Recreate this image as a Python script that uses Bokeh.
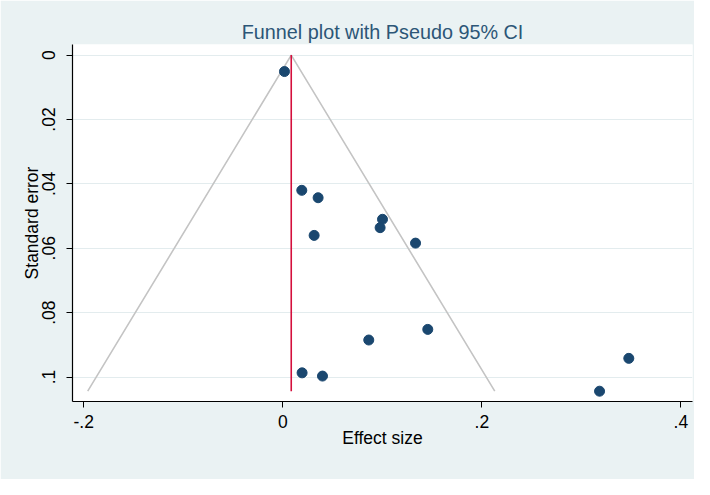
from bokeh.plotting import figure
from bokeh.models import Range1d, FixedTicker, ColumnDataSource
from bokeh.embed import file_html
from bokeh.resources import INLINE

# ---- data ----
effect_size = [0.0017, 0.0191, 0.0355, 0.1002, 0.0978, 0.0315, 0.1334,
               0.1457, 0.0864, 0.3477, 0.0194, 0.0399, 0.3183]
std_error = [0.0051, 0.0420, 0.0443, 0.0510, 0.0536, 0.0560, 0.0584,
             0.0852, 0.0885, 0.0942, 0.0987, 0.0997, 0.1044]

pooled_effect = 0.0085
max_se = 0.1044
funnel_x = [-0.196, 0.0085, 0.213]
funnel_se = [0.1044, 0.0, 0.1044]

x_ticks = [-0.2, 0.0, 0.2, 0.4]
x_tick_labels = ["-.2", "0", ".2", ".4"]
y_ticks = [0.0, 0.02, 0.04, 0.06, 0.08, 0.1]
y_tick_labels = ["0", ".02", ".04", ".06", ".08", ".1"]

BG = "#eaf2f3"
FONT = "Liberation Sans"

p = figure(
    frame_width=620, frame_height=357,
    min_border_left=72, min_border_right=2,
    min_border_top=44, min_border_bottom=78,
    x_range=Range1d(-0.2113, 0.4117),
    y_range=Range1d(0.1076, -0.0033),
    output_backend="svg", toolbar_location=None,
    title="Funnel plot with Pseudo 95% CI",
)
p.background_fill_color = "white"
p.border_fill_color = BG
p.outline_line_color = None

p.title.align = "center"
p.title.text_font = FONT
p.title.text_font_size = "19.8px"
p.title.text_font_style = "normal"
p.title.text_color = "#2c5677"
p.title.standoff = 4

# funnel
p.line(funnel_x, funnel_se, line_color="#c4c4c4", line_width=1.6)
# pooled effect line
p.line([pooled_effect, pooled_effect], [0.0, max_se], line_color="#d40f3c", line_width=1.6)

src = ColumnDataSource(dict(x=effect_size, y=std_error))
p.scatter("x", "y", source=src, size=10, fill_color="#1a476f", line_color="#1a476f")

# axes
p.xaxis.ticker = FixedTicker(ticks=x_ticks)
p.xaxis.major_label_overrides = {t: l for t, l in zip(x_ticks, x_tick_labels)}
p.yaxis.ticker = FixedTicker(ticks=y_ticks)
p.yaxis.major_label_overrides = {t: l for t, l in zip(y_ticks, y_tick_labels)}
p.yaxis.major_label_orientation = "vertical"

p.xaxis.axis_label = "Effect size"
p.yaxis.axis_label = "Standard error"

for ax in (p.xaxis, p.yaxis):
    ax.axis_line_color = "black"
    ax.axis_line_width = 1.2
    ax.major_tick_line_color = "black"
    ax.major_tick_out = 6
    ax.major_tick_in = 0
    ax.minor_tick_line_color = None
    ax.major_label_text_font = FONT
    ax.major_label_text_font_size = "17.5px"
    ax.major_label_text_color = "black"
    ax.axis_label_text_font = FONT
    ax.axis_label_text_font_size = "17.5px"
    ax.axis_label_text_font_style = "normal"
    ax.axis_label_text_color = "black"

p.xaxis.major_label_standoff = 7
p.xaxis.axis_label_standoff = -3
p.yaxis.major_label_standoff = 11
p.yaxis.axis_label_standoff = -2

p.xgrid.grid_line_color = None
p.ygrid.grid_line_color = "#e3ecee"
p.ygrid.grid_line_width = 1.2

open("out.html", "w").write(file_html(p, INLINE))
